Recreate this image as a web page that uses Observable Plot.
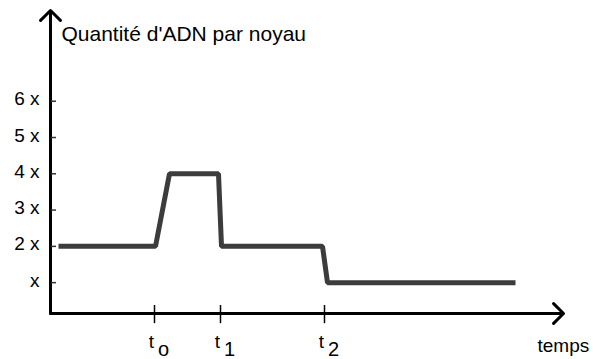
<!DOCTYPE html>
<html>
<head>
<meta charset="utf-8">
<script src="https://cdn.jsdelivr.net/npm/d3@7"></script>
<script src="https://cdn.jsdelivr.net/npm/@observablehq/plot@0.6"></script>
<style>
  html, body { margin: 0; padding: 0; background: #fff; }
  svg { display: block; }
</style>
</head>
<body>
<div id="chart"></div>
<script>
// Time (arbitrary units) and DNA quantity (multiples of x)
const curveTime  = [0.8, 10.5, 11.9, 16.8, 17.1, 27.2, 27.7, 46.5];
const curveValue = [2,   2,    4,    4,    2,    2,    1,    1];

const timeTicks    = [10.4, 17.0, 27.4];
const timeSubs     = ["o", "1", "2"];
const valueTicks   = [1, 2, 3, 4, 5, 6];
const valueLabels  = ["x", "2 x", "3 x", "4 x", "5 x", "6 x"];

const yLabel = "Quantité d'ADN par noyau";
const xLabel = "temps";

const xMin = 0, xMax = 51.3;
const yMin = 0.15, yMax = 8.5;

const curve = curveTime.map((t, i) => ({t, v: curveValue[i]}));
const yTicks = valueTicks.map((v, i) => ({v, label: valueLabels[i]}));
const xTicks = timeTicks.map((t, i) => ({t, sub: timeSubs[i]}));

const font = "Liberation Sans, Arial, sans-serif";

const chart = Plot.plot({
  width: 593,
  height: 359,
  marginLeft: 50,
  marginRight: 30,
  marginTop: 10,
  marginBottom: 46,
  style: {fontFamily: font, background: "#fff", overflow: "visible"},
  x: {domain: [xMin, xMax], axis: null},
  y: {domain: [yMin, yMax], axis: null},
  marks: [
    // y axis with arrow
    Plot.arrow([{}], {x1: xMin, y1: yMin, x2: xMin, y2: yMax, stroke: "#000", strokeWidth: 3, headAngle: 90, headLength: 7}),
    // x axis with arrow
    Plot.arrow([{}], {x1: xMin, y1: yMin, x2: xMax, y2: yMin, stroke: "#000", strokeWidth: 3, headAngle: 90, headLength: 7}),
    // y ticks
    Plot.ruleY(yTicks, {y: "v", x1: xMin, x2: xMin + 0.5, stroke: "#333", strokeWidth: 1.5, dx: 1}),
    Plot.text(yTicks, {x: xMin, y: "v", text: "label", textAnchor: "end", dx: -11, dy: -2, fontSize: 19, fill: "#000"}),
    // x ticks
    Plot.ruleX(xTicks, {x: "t", y1: yMin - 0.28, y2: yMin + 0.22, stroke: "#000", strokeWidth: 1.5}),
    Plot.text(xTicks, {x: "t", y: yMin, text: () => "t", dx: -3, dy: 28, fontSize: 19, fill: "#000"}),
    Plot.text(xTicks, {x: "t", y: yMin, text: "sub", dx: 9, dy: 36, fontSize: 20, fill: "#000"}),
    // axis titles
    Plot.text([yLabel], {frameAnchor: "top-left", textAnchor: "start", lineAnchor: "middle", dx: 11, dy: 24, fontSize: 21, fill: "#000"}),
    Plot.text([xLabel], {frameAnchor: "bottom-right", textAnchor: "start", lineAnchor: "middle", dx: -26, dy: 32, fontSize: 19, fill: "#000"}),
    // DNA curve
    Plot.line(curve, {x: "t", y: "v", stroke: "#3c3c3c", strokeWidth: 5, strokeLinejoin: "miter", strokeLinecap: "butt"})
  ]
});
document.getElementById("chart").append(chart);
</script>
</body>
</html>
